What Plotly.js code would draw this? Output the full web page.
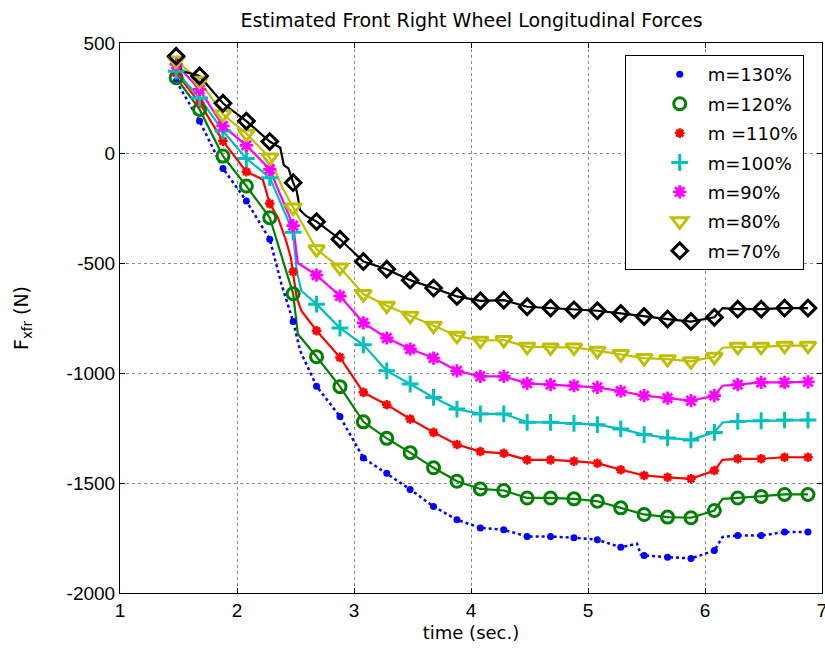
<!DOCTYPE html>
<html>
<head>
<meta charset="utf-8">
<script src="https://cdn.plot.ly/plotly-3.0.1.min.js"></script>
<style>html,body{margin:0;padding:0;background:#fff;}#chart{width:825px;height:649px;}</style>
</head>
<body>
<div id="chart"></div>
<script>
// marker sample times (sec)
const markerTimes = [1.48,1.68,1.88,2.08,2.28,2.48,2.68,2.88,3.08,3.28,3.48,3.68,3.88,4.08,4.28,4.48,4.68,4.88,5.08,5.28,5.48,5.68,5.88,6.08,6.28,6.48,6.68,6.88];

const seriesNames = ["m=130%","m=120%","m =110%","m=100%","m=90%","m=80%","m=70%"];

// values at marker times (N)
const m130 = [327,145,-70,-218,-392,-766,-1060,-1198,-1386,-1456,-1529,-1607,-1667,-1704,-1713,-1743,-1743,-1749,-1758,-1792,-1829,-1837,-1843,-1807,-1739,-1739,-1723,-1723];
const m120 = [342,198,-14,-150,-294,-640,-926,-1062,-1222,-1297,-1362,-1431,-1492,-1527,-1534,-1568,-1568,-1572,-1583,-1613,-1643,-1655,-1658,-1625,-1568,-1561,-1552,-1552];
const m110 = [364,228,54,-85,-230,-540,-808,-929,-1088,-1144,-1209,-1270,-1325,-1357,-1365,-1395,-1395,-1401,-1410,-1440,-1466,-1474,-1481,-1443,-1390,-1390,-1383,-1383];
const m100 = [372,250,100,-25,-112,-360,-687,-796,-872,-990,-1050,-1111,-1164,-1186,-1186,-1224,-1224,-1229,-1235,-1254,-1280,-1295,-1304,-1270,-1220,-1217,-1214,-1214];
const m90  = [403,289,123,35,-74,-330,-555,-650,-772,-841,-891,-932,-990,-1015,-1015,-1047,-1053,-1058,-1065,-1083,-1103,-1114,-1126,-1103,-1053,-1043,-1043,-1040];
const m80  = [420,328,176,88,-21,-248,-438,-521,-641,-694,-740,-785,-831,-853,-850,-881,-884,-884,-899,-914,-932,-937,-947,-926,-881,-881,-876,-876];
const m70  = [440,350,226,145,52,-135,-312,-392,-493,-528,-578,-614,-652,-672,-669,-699,-705,-713,-717,-729,-743,-755,-766,-747,-710,-710,-705,-705];

// extra line samples between markers (time, value)
const x130 = [2.38,2.54,5.42,5.45,6.15];
const y130 = [-596,-899,-1776,-1825,-1745];
const x120 = [2.45,2.52,6.15];
const y120 = [-596,-823,-1572];
const x110 = [2.22,2.35,2.42,2.46,2.51,2.55,6.15];
const y110 = [-120,-294,-400,-475,-657,-717,-1395];
const x100 = [2.51,2.55,6.15];
const y100 = [-536,-626,-1225];
const x90  = [2.52,6.15];
const y90  = [-500,-1058];
const x80  = [2.39,6.15];
const y80  = [-160,-885];
const x70  = [1.53,2.37,2.40,2.44,2.51,2.54,2.59,6.15];
const y70  = [372,24,-55,-70,-172,-260,-286,-705];

const colors = ["#0000ff","#008000","#ff0000","#00bfbf","#ff00ff","#bfbf00","#000000"];
const symbols = ["circle","circle-open","asterisk-open","cross-thin-open","asterisk-open","triangle-down-open","diamond-open"];
const sizes = [7,12,8,12,11,14,12];
const mlw = [0,3,2.5,3,2.8,3,3];
const dashes = ["dot","solid","solid","solid","solid","solid","solid"];

const vals = [m130,m120,m110,m100,m90,m80,m70];
const extX = [x130,x120,x110,x100,x90,x80,x70];
const extY = [y130,y120,y110,y100,y90,y80,y70];

const traces = [];
for (let i = 0; i < 7; i++) {
  const pts = markerTimes.map((t,k)=>[t, vals[i][k]]).concat(extX[i].map((t,k)=>[t, extY[i][k]]));
  pts.sort((a,b)=>a[0]-b[0]);
  traces.push({
    x: pts.map(p=>p[0]), y: pts.map(p=>p[1]),
    type: 'scatter', mode: 'lines', showlegend: false, hoverinfo: 'skip',
    line: {color: colors[i], width: i === 0 ? 2.5 : 2.2, dash: dashes[i]}
  });
}
for (let i = 0; i < 7; i++) {
  traces.push({
    x: markerTimes, y: vals[i], name: seriesNames[i],
    type: 'scatter', mode: 'markers', legendgroup: 'g'+i,
    marker: {symbol: symbols[i], size: sizes[i], color: colors[i], line: {color: colors[i], width: mlw[i]}}
  });
}

const tickFont = {family: 'Liberation Sans, Arial, sans-serif', size: 19, color: '#000'};
const textFont = 'DejaVu Sans, Liberation Sans, Arial, sans-serif';

const axisCommon = {
  showline: true, linecolor: '#000', linewidth: 1, mirror: 'ticks',
  ticks: 'inside', ticklen: 5, tickcolor: '#000',
  showgrid: true, gridcolor: '#8a8a8a', griddash: 'dot', gridwidth: 1,
  zeroline: false, tickfont: tickFont
};

const layout = {
  width: 825, height: 649,
  margin: {l: 120, r: 3, t: 43, b: 56},
  paper_bgcolor: '#fff', plot_bgcolor: '#fff',
  font: {family: textFont, size: 18, color: '#000'},
  title: {text: 'Estimated Front Right Wheel Longitudinal Forces', x: 0.5715, xanchor: 'center', y: 0.968, yanchor: 'middle',
          font: {family: textFont, size: 19, color: '#000'}},
  xaxis: Object.assign({}, axisCommon, {range: [1,7], tickvals: [1,2,3,4,5,6,7], ticktext: ['1','2','3','4','5','6','7'],
          ticklabeloverflow: 'allow',
          title: {text: 'time (sec.)', standoff: 6, font: {family: textFont, size: 18}}}),
  yaxis: Object.assign({}, axisCommon, {range: [-2000,500], tickvals: [-2000,-1500,-1000,-500,0,500],
          ticktext: ['-2000','-1500','-1000','-500','0','500'],
          title: {text: 'F<sub>xfr</sub> (N)', standoff: 32, font: {family: textFont, size: 19}}}),
  legend: {x: 0.719, y: 0.978, xanchor: 'left', yanchor: 'top', bgcolor: '#fff', bordercolor: '#000', borderwidth: 1,
           traceorder: 'grouped', tracegroupgap: 3, itemwidth: 46, indentation: 26,
           font: {family: textFont, size: 18, color: '#000'}},
  showlegend: true
};

Plotly.newPlot('chart', traces, layout, {displayModeBar: false, staticPlot: true});
</script>
</body>
</html>
